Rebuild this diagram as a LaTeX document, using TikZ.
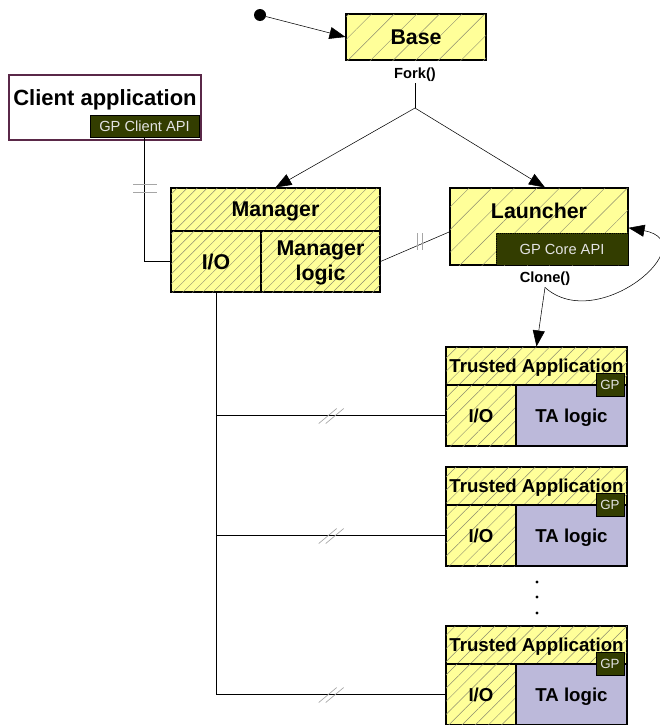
\documentclass[tikz,border=0pt]{standalone}
\usepackage{fontspec}
\setmainfont{Liberation Sans}
\usepackage{xcolor}
\usetikzlibrary{arrows.meta, patterns.meta, calc}
\definecolor{TA_Yellow}{HTML}{FFFF99}
\definecolor{TA_Lilac}{HTML}{BCB9DA}
\definecolor{GP_Green}{HTML}{333D00}
\definecolor{GP_Text}{HTML}{E2E2E2}
\definecolor{Hatch_Gray}{HTML}{8C8C6E}
\definecolor{Client_Plum}{HTML}{5A2848}

\tikzset{
    box/.style={draw, line width=0.8pt, inner sep=0pt, text depth=0pt, font=\bfseries\fontsize{16}{18}\selectfont},
    hatchbox/.style={box, fill=TA_Yellow,
        postaction={pattern={Lines[angle=45, distance=#1, line width=0.35pt]}, pattern color=Hatch_Gray}},
    hatchbox/.default=7pt,
    apibox/.style={draw, fill=GP_Green, text=GP_Text, inner sep=0pt, text depth=0pt, font=\fontsize{11}{13}\selectfont},
    call/.style={font=\bfseries\fontsize{11}{13}\selectfont, inner sep=1pt},
    tick/.style={draw=gray!70, line width=0.5pt},
    tatext/.style={font=\bfseries\fontsize{14}{16}\selectfont},
    bigtext/.style={font=\bfseries\fontsize{16.5}{18.5}\selectfont, inner sep=0pt, text depth=0pt}
}

\begin{document}
\begin{tikzpicture}[x=0.75pt, y=-0.75pt, >={Triangle[length=12pt, width=9pt]}]
    \useasboundingbox (0,0) rectangle (660,725);

    % Base and fork
    \node[circle, fill, inner sep=0pt, minimum size=9pt] (start) at (260,15) {};
    \node[hatchbox=12pt, minimum width=105pt, minimum height=34.5pt] (base) at (416,37) {Base};
    \draw[->] (start) -- (base.west);
    \node[call] (fork) at (415,75) {Fork()};
    \coordinate (forksplit) at (415,108);

    % Client application
    \node[box, draw=Client_Plum, fill=white, minimum width=144pt, minimum height=48.75pt] (client) at (105,107.5) {};
    \node[bigtext] (clienttext) at (105,98) {Client application};
    \node[apibox, minimum width=81.75pt, minimum height=16.5pt] (gpclient) at (144.5,126) {GP Client API};

    % Manager
    \node[hatchbox=5.3pt, minimum width=156.75pt, minimum height=32.25pt] (manhead) at (275.5,209.5) {Manager};
    \node[hatchbox=5.3pt, minimum width=67.5pt, minimum height=45.75pt] (manio) at (216,261.5) {I/O};
    \node[hatchbox=5.3pt, minimum width=89.25pt, minimum height=45.75pt] (manlogic) at (320.5,261.5) {};
    \node[bigtext, align=center, text depth=, font=\bfseries\fontsize{16}{18.75}\selectfont] (manlogictext) at (320.5,263) {Manager\\logic};

    % Launcher
    \node[hatchbox=12pt, minimum width=133.5pt, minimum height=57.75pt] (launcher) at (539,226.5) {};
    \node[bigtext, font=\bfseries\fontsize{16}{18}\selectfont] (launchertext) at (539,211) {Launcher};
    \node[apibox, densely dotted, minimum width=99pt, minimum height=24pt] (gpcore) at (562,249) {GP Core API};
    \node[call] (clone) at (545,279) {Clone()};

    \draw (fork) -- (forksplit);
    \draw[->] (forksplit) -- (manhead.north);
    \draw[->] (forksplit) -- ([xshift=4.5pt]launcher.north);

    % Client link
    \draw (gpclient.south) |- (manio.west);
    \draw[tick] (133,184) -- (157,184);
    \draw[tick] (133,192) -- (157,192);

    % Manager to launcher
    \draw (manlogic.east) -- ([yshift=-4pt]launcher.west);
    \draw[tick] (417,233) -- (417,250);
    \draw[tick] (422,233) -- (422,250);

    % Trusted applications
    \foreach \i/\top in {1/347, 2/467, 3/626} {
        \node[hatchbox=7pt, tatext, minimum width=135.75pt, minimum height=28.5pt] (tahead\i) at (536.5,\top+19) {Trusted Application};
        \node[hatchbox=7pt, tatext, minimum width=52.5pt, minimum height=45.75pt] (taio\i) at (481,\top+68.5) {I/O};
        \node[box, tatext, fill=TA_Lilac, minimum width=83.25pt, minimum height=45.75pt] (talogic\i) at (571.5,\top+68.5) {TA logic};
        \node[apibox, minimum width=21pt, minimum height=17.25pt, font=\fontsize{10}{12}\selectfont] (tagp\i) at (610,\top+37.5) {GP};
    }
    \foreach \y in {582, 597, 613} {
        \fill (537,\y) circle (1.2pt);
    }

    % Clone
    \draw[->] (clone.south) .. controls (598,335) and (706,242) .. ([yshift=-1pt]launcher.east);
    \draw[->] (clone.south) -- (tahead1.north);

    % Bus to the trusted applications
    \draw (manio.south) |- (taio3.west);
    \foreach \i in {1,2} {
        \draw (taio\i.west -| manio.south) -- (taio\i.west);
    }
    \foreach \i in {1,2,3} {
        \coordinate (brk\i) at ($(taio\i.west -| manio.south)!0.5!(taio\i.west)$);
        \draw[tick] ($(brk\i)+(-12,8)$) -- ++(18,-15);
        \draw[tick] ($(brk\i)+(-5,8)$) -- ++(18,-15);
    }
\end{tikzpicture}
\end{document}
